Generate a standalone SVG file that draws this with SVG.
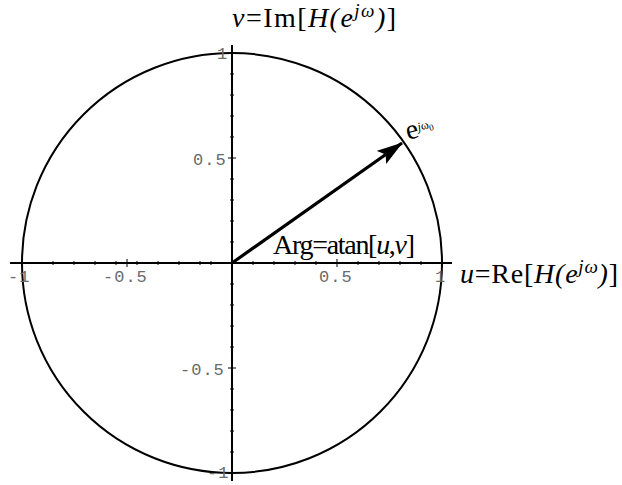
<svg xmlns="http://www.w3.org/2000/svg" width="622" height="485" viewBox="0 0 622 485">
<style>
.ax{stroke:#000;stroke-width:2;fill:none}
.tk{stroke:#000;stroke-width:1}
.tl{font-family:"Liberation Mono",monospace;font-size:17px;fill:#6a6a6a;letter-spacing:1px}
.lb{font-family:"Liberation Serif",serif;font-size:28px;fill:#000}
.it{font-style:italic}
</style>
<defs>
<marker id="ahb" viewBox="0 0 26 16" markerWidth="26" markerHeight="16" refX="25" refY="8" orient="auto" markerUnits="userSpaceOnUse">
<path d="M0,0 L26,8 L0,16 L5,8 Z" fill="#000"/>
</marker>
</defs>
<rect width="622" height="485" fill="#fff"/>
<g id="circle"><circle cx="232" cy="263" r="210" class="ax" stroke-width="1.6"/></g>
<g id="axes">
<line x1="10" y1="263" x2="452" y2="263" class="ax"/>
<line x1="232" y1="45" x2="232" y2="481" class="ax"/>
<g class="tk">
<path d="M22,259V267M53,261V265M74,261V265M95,261V265M116,261V265M127,259V267M137,261V265M158,261V265M179,261V265M200,261V265M211,261V265M253,261V265M274,261V265M295,261V265M316,261V265M337,259V267M358,261V265M379,261V265M400,261V265M421,261V265M442,259V267"/>
<path d="M228,53H236M230,74H234M230,95H234M230,116H234M230,137H234M228,158H236M230,179H234M230,200H234M230,221H234M230,242H234M230,284H234M230,305H234M230,326H234M230,347H234M228,368H236M230,389H234M230,410H234M230,431H234M230,452H234M228,473H236"/>
</g>
<text class="tl" x="8" y="282">-1</text>
<text class="tl" x="103" y="282">-0.5</text>
<text class="tl" x="319" y="282">0.5</text>
<text class="tl" x="435" y="282">1</text>
<text class="tl" x="217" y="59">1</text>
<text class="tl" x="193" y="165">0.5</text>
<text class="tl" x="180" y="375">-0.5</text>
<text class="tl" x="207" y="478">-1</text>
</g>
<g id="connectors">
<line x1="232" y1="263" x2="402" y2="143" stroke="#000" stroke-width="3.2" marker-end="url(#ahb)"/>
</g>
<g id="labels">
<text class="lb" x="232" y="27" textLength="164" lengthAdjust="spacing"><tspan class="it">v</tspan>=Im[<tspan class="it">H(e<tspan font-size="19" dy="-10">j</tspan><tspan font-size="19">ω</tspan><tspan dy="10">)</tspan></tspan>]</text>
<text class="lb" x="460" y="283" textLength="158" lengthAdjust="spacing"><tspan class="it">u</tspan>=Re[<tspan class="it">H(e<tspan font-size="19" dy="-10">j</tspan><tspan font-size="19">ω</tspan><tspan dy="10">)</tspan></tspan>]</text>
<text class="lb" x="273" y="254" font-size="24" textLength="142" lengthAdjust="spacing">Arg=atan[<tspan class="it">u</tspan>,<tspan class="it">v</tspan>]</text>
<text class="lb" x="408" y="140" font-size="16" transform="rotate(-15 408 140)">e<tspan font-size="12" dy="-6" class="it">j</tspan><tspan font-size="12">ω</tspan><tspan font-size="9" dy="3">0</tspan></text>
</g>
</svg>
